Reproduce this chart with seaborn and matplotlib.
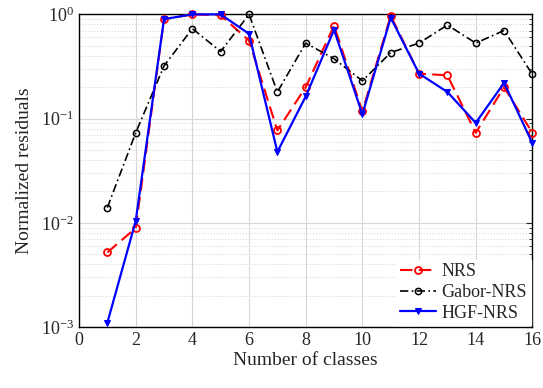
import numpy as np
import pandas as pd
import matplotlib
matplotlib.use("Agg")
import matplotlib.pyplot as plt
import seaborn as sns
from matplotlib.ticker import LogLocator, NullFormatter

classes = list(range(1, 17))
nrs = [0.0052, 0.0089, 0.90, 1.0, 0.98, 0.56, 0.077, 0.20, 0.78, 0.117, 0.97, 0.27, 0.26, 0.073, 0.20, 0.073]
gabor = [0.014, 0.073, 0.32, 0.73, 0.44, 1.0, 0.18, 0.53, 0.375, 0.23, 0.43, 0.53, 0.79, 0.53, 0.70, 0.265]
hgf = [0.0011, 0.0104, 0.90, 1.0, 1.0, 0.65, 0.048, 0.163, 0.71, 0.11, 0.93, 0.27, 0.18, 0.091, 0.22, 0.058]
xticks = list(range(0, 17, 2))

sns.set_style("white")
plt.rcParams['font.family'] = ['Liberation Serif', 'DejaVu Serif']
plt.rcParams['mathtext.fontset'] = 'stix'

fig = plt.figure(figsize=(5.43, 3.88), dpi=100)
ax = fig.add_axes([0.1455, 0.157, 0.835, 0.806])

df = pd.DataFrame({"x": classes, "NRS": nrs, "Gabor-NRS": gabor, "HGF-NRS": hgf})

sns.lineplot(data=df, x="x", y="NRS", ax=ax, color="red", linestyle=(0, (6, 3)),
             marker="o", markersize=5, markerfacecolor="none", markeredgecolor="red",
             markeredgewidth=1.3, linewidth=1.5, label="NRS", clip_on=False, zorder=3)
sns.lineplot(data=df, x="x", y="Gabor-NRS", ax=ax, color="black", linestyle=(0, (5, 2, 1, 2)),
             marker="o", markersize=4.5, markerfacecolor="none", markeredgecolor="black",
             markeredgewidth=1.1, linewidth=1.2, label="Gabor-NRS", clip_on=False, zorder=3)
sns.lineplot(data=df, x="x", y="HGF-NRS", ax=ax, color="blue", linestyle="-",
             marker="v", markersize=5, markerfacecolor="blue", markeredgecolor="blue",
             linewidth=1.6, label="HGF-NRS", clip_on=False, zorder=4)

ax.set_yscale("log")
ax.set_xlim(0, 16)
ax.set_ylim(1e-3, 1)
ax.set_xticks(xticks)
ax.yaxis.set_minor_locator(LogLocator(base=10, subs=np.arange(2, 10)))
ax.yaxis.set_minor_formatter(NullFormatter())
ax.grid(True, which="major", color="#d6d6d6", linewidth=0.8, linestyle="-")
ax.grid(True, which="minor", axis="y", color="#d6d6d6", linewidth=0.6, linestyle=(0, (1.5, 2)))
ax.tick_params(which="both", direction="in", top=False, right=True, labelsize=13)
ax.tick_params(which="major", length=4)
ax.tick_params(which="minor", length=2)
for s in ax.spines.values():
    s.set_color("black")
    s.set_linewidth(1.0)

ax.set_xlabel("Number of classes", fontsize=14, labelpad=2)
ax.set_ylabel("Normalized residuals", fontsize=14, labelpad=6)

leg = ax.legend(loc="lower right", fontsize=13, frameon=True, framealpha=1,
                edgecolor="white", fancybox=False, handlelength=2.0,
                borderpad=0.2, labelspacing=0.2, handletextpad=0.3, borderaxespad=0.1)

fig.savefig("out.png", dpi=100)
